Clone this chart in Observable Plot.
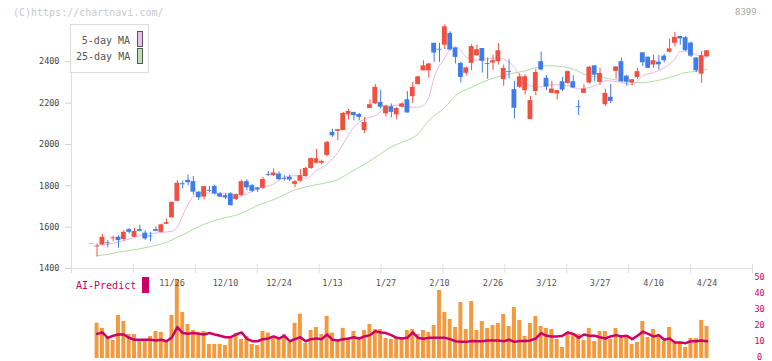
<!DOCTYPE html>
<html><head><meta charset="utf-8">
<script src="https://cdn.jsdelivr.net/npm/d3@7"></script>
<script src="https://cdn.jsdelivr.net/npm/@observablehq/plot@0.6"></script>
<style>
html,body{margin:0;padding:0;background:#fff;}
#root{position:relative;width:772px;height:361px;overflow:hidden;font-family:"DejaVu Sans Mono",monospace;}
.abs{position:absolute;white-space:nowrap;}
</style></head><body><div id="root"></div>
<script>
// ---- data ----
const openP = [1519,1504,1514,1524,1544,1551,1540,1588,1551,1588,
 1571,1557,1588,1575,1614,1645,1725,1810,1826,1820,
 1769,1745,1777,1796,1761,1752,1761,1733,1753,1820,
 1801,1790,1788,1854,1849,1857,1835,1841,1807,1822,
 1845,1884,1909,1909,1946,2058,2063,2067,2143,2154,
 2145,2067,2174,2196,2203,2148,2182,2143,2180,2216,
 2231,2289,2356,2356,2489,2460,2480,2537,2466,2392,
 2344,2392,2429,2464,2391,2394,2400,2313,2352,2265,
 2276,2260,2120,2256,2400,2320,2247,2244,2303,2295,
 2303,2182,2247,2297,2380,2300,2192,2228,2353,2400,
 2330,2297,2324,2443,2422,2384,2398,2427,2446,2489,
 2522,2516,2490,2418,2340,2424];
const closeP = [1521,1508,1551,1520,1548,1535,1575,1575,1579,1580,
 1543,1553,1580,1611,1622,1720,1812,1805,1815,1769,
 1742,1796,1773,1761,1745,1741,1704,1757,1820,1790,
 1773,1780,1830,1850,1862,1830,1831,1828,1820,1849,
 1884,1931,1931,1918,2010,2042,2071,2150,2159,2139,
 2131,2106,2192,2276,2180,2186,2155,2174,2196,2152,
 2276,2327,2380,2389,2442,2456,2569,2457,2421,2324,
 2370,2473,2458,2402,2387,2405,2453,2368,2348,2175,
 2327,2327,2212,2348,2360,2277,2268,2260,2263,2352,
 2273,2178,2268,2373,2335,2343,2247,2208,2375,2303,
 2301,2313,2352,2395,2368,2405,2385,2405,2462,2518,
 2510,2453,2427,2356,2429,2453];
const highP = [1521,1519,1564,1535,1556,1559,1583,1594,1594,1609,
 1583,1575,1602,1614,1640,1722,1825,1822,1852,1845,
 1771,1798,1796,1803,1767,1761,1767,1761,1825,1830,
 1806,1792,1840,1869,1882,1867,1849,1852,1825,1879,
 1888,1935,1975,1924,2015,2073,2073,2155,2169,2156,
 2150,2130,2215,2290,2262,2190,2196,2178,2201,2256,
 2300,2329,2405,2392,2489,2489,2578,2545,2468,2397,
 2375,2482,2480,2464,2418,2431,2488,2384,2410,2305,
 2342,2337,2231,2363,2446,2334,2305,2262,2324,2356,
 2332,2212,2289,2378,2380,2368,2267,2290,2375,2418,
 2335,2313,2368,2443,2422,2432,2430,2435,2509,2542,
 2522,2522,2495,2418,2450,2453];
const lowP = [1519,1455,1512,1500,1531,1498,1532,1567,1549,1577,
 1536,1530,1578,1573,1612,1643,1723,1785,1800,1755,
 1729,1733,1767,1755,1743,1733,1702,1729,1748,1775,
 1767,1767,1782,1845,1845,1825,1823,1820,1790,1817,
 1840,1879,1906,1900,1940,2034,2018,2067,2119,2114,
 2114,2053,2174,2193,2172,2134,2128,2119,2176,2152,
 2197,2289,2356,2321,2397,2397,2459,2452,2389,2297,
 2332,2356,2425,2345,2315,2357,2384,2281,2316,2123,
 2270,2238,2120,2236,2355,2260,2245,2215,2256,2290,
 2270,2140,2245,2292,2302,2286,2183,2197,2315,2300,
 2281,2284,2315,2376,2368,2368,2360,2395,2442,2472,
 2480,2450,2420,2347,2295,2420];

// 5-day and 25-day moving averages, read at candle indices
const ma5Idx = [1,4,7,9,12,15,16,17,18,19,20,22,25,27,29,31,34,36,38,40,42,44,46,47,49,51,53,55,57,59,61,62,63,64,66,67,68,69,70,72,74,76,78,79,80,81,82,84,86,89,91,94,96,99,101,103,105,108,109,110,112,113,115];
const ma5Val = [1511,1522,1543,1559,1572,1580,1600,1656,1710,1750,1769,1764,1764,1744,1761,1785,1809,1841,1849,1836,1873,1906,1962,2002,2083,2123,2139,2180,2190,2182,2180,2190,2228,2324,2420,2462,2473,2453,2421,2408,2415,2418,2397,2373,2330,2300,2284,2278,2289,2284,2268,2284,2308,2300,2289,2332,2348,2389,2413,2450,2444,2434,2421];
const ma25Idx = [1,3,5,7,9,11,13,14,16,18,19,23,28,31,35,37,40,43,46,48,51,54,56,58,61,63,66,68,71,74,78,81,85,86,90,92,96,99,102,105,108,111,113,115];
const ma25Val = [1463,1468,1479,1487,1495,1506,1519,1527,1551,1575,1590,1632,1667,1704,1744,1770,1795,1810,1830,1860,1905,1954,1989,2010,2051,2115,2179,2236,2276,2311,2340,2356,2380,2380,2364,2340,2321,2308,2298,2305,2324,2348,2353,2364];

// AI-Predict panel: bars and line, candles 1..115
const aiBars = [22,18.8,13.3,11.3,26.9,23.1,15,15,11.9,11.9,13.8,16.9,16.3,11.3,26.9,49.4,28.8,21.3,17.5,16.3,
 16.9,8.8,8.8,8.8,8.1,12.5,15.6,11.9,13.8,8.8,8.1,16.9,15.9,13.8,13.1,15,10,22,27.7,9.4,
 17.5,19.4,15,26.3,15.9,11.3,18.8,11.9,16.9,12.5,17.5,21.3,18.1,18.1,12.5,11.9,12.5,11.9,17.5,18.1,
 15,17.5,16.3,20.6,42.5,28.8,24.4,19.4,35,18.1,35.6,17.5,23.1,18.8,20.6,21.9,27.5,20,31.9,23.8,
 13.8,21.9,26.3,20,18.8,18.1,11.9,6.9,16.3,15,15,11.3,18.8,10.6,16.9,16.9,11.9,18.8,14.4,14.4,
 8.8,10,23.1,13.1,18.1,14.4,10.6,19.4,10,10,6.9,12.5,12.5,23.8,20];
const aiLine = [15.4,16.3,12.9,14.2,15,15,12.9,11.7,11.7,11.7,11.7,11.3,11.7,10.8,13.3,19.6,15.9,15.4,15.9,15.4,
 15,15.9,15,14.2,13.3,13.3,15,16.3,12.3,10.8,10.8,12.1,12.5,13.8,12.5,14.2,10.8,12.1,13.3,10.8,
 12.1,12.5,12.1,15,11.7,11.3,12.1,12.5,13.3,12.5,13.8,14.6,17.1,16.3,15.9,14.6,12.9,12.5,12.9,16.3,
 12.9,12.3,12.9,12.9,12.9,12.9,12.1,10.8,10.4,10.4,11,10.8,10.8,11.3,11.3,11.3,10.8,11.7,10.4,11,
 11,11.3,12.5,15.9,14.2,13.8,13.8,14.2,16.3,15.4,12.9,15,14.2,14.2,13.3,12.5,13.8,14.6,13.8,14.2,
 12.1,14.2,16.7,15.4,13.8,14.6,11.7,12.5,10,10,9.6,10.8,10.8,11.3,10.8];

const dateLabels = ["11/26","12/10","12/24","1/13","1/27","2/10","2/26","3/12","3/27","4/10","4/24"];
const dateIdx = [15,25,35,45,55,65,75,85,95,105,115];
const yTicks = [1400,1600,1800,2000,2200,2400];
const aiTicks = [0,10,20,30,40,50];

// ---- build ----
const UP = "#f0503f", DOWN = "#3f7ce8";
const MONO = "DejaVu Sans Mono, monospace";
const xDomain = [-3.78, 123.5];
const candles = openP.map((o, i) => ({i, o, c: closeP[i], h: highP[i], l: lowP[i]}));
const ma5 = ma5Idx.map((i, k) => ({i, v: ma5Val[k]}));
const ma25 = ma25Idx.map((i, k) => ({i, v: ma25Val[k]}));
const bars = aiBars.map((v, k) => ({i: k + 1, v}));
const line = aiLine.map((v, k) => ({i: k + 1, v}));
const gridX = d3.range(12).map(k => xDomain[0] + k * (xDomain[1] - xDomain[0]) / 11);
const labelOf = new Map(dateIdx.map((d, k) => [d, dateLabels[k]]));
const col = d => d.c >= d.o ? UP : DOWN;

const root = document.getElementById("root");

const main = Plot.plot({
  width: 772, height: 300,
  marginLeft: 71, marginRight: 20, marginTop: 24, marginBottom: 32,
  style: {background: "transparent", fontFamily: MONO, fontSize: "8.5px", overflow: "visible"},
  x: {domain: xDomain, label: null},
  y: {domain: [1400, 2580], label: null},
  color: {type: "identity"},
  marks: [
    Plot.ruleX([xDomain[0]], {stroke: "#dedede"}),
    Plot.ruleY([1400], {stroke: "#dedede"}),
    Plot.ruleX(gridX, {y1: 1400, y2: 1400, insetTop: -4, insetBottom: -5, stroke: "#dedede"}),
    Plot.axisY({ticks: yTicks, tickSize: 6, tickPadding: 6, tickFormat: d => String(d), label: null, stroke: "#d0d0d0", fill: "#444", fontSize: 8.5}),
    Plot.axisX({ticks: dateIdx, tickSize: 0, tickPadding: 11, tickFormat: d => labelOf.get(d), label: null, fill: "#555", fontSize: 8.5}),
    Plot.line(ma25, {x: "i", y: "v", stroke: "#b3dca3", strokeWidth: 1, curve: "monotone-x"}),
    Plot.line(ma5, {x: "i", y: "v", stroke: "#e9b6ea", strokeWidth: 1, curve: "monotone-x"}),
    Plot.ruleX(candles, {x: "i", y1: "l", y2: "h", stroke: col, strokeWidth: 1}),
    Plot.rect(candles, {x1: d => d.i - 0.45, x2: d => d.i + 0.45, y1: d => Math.min(d.o, d.c), y2: d => Math.max(d.o, d.c), fill: col})
  ]
});
main.style.position = "absolute";
main.style.left = "0px";
main.style.top = "0px";

const lower = Plot.plot({
  width: 772, height: 91,
  marginLeft: 71, marginRight: 20, marginTop: 8, marginBottom: 3,
  style: {background: "transparent", fontFamily: MONO, fontSize: "8.5px", overflow: "visible"},
  x: {domain: xDomain, axis: null, label: null},
  y: {domain: [0, 50], label: null},
  marks: [
    Plot.rectY(bars, {x1: d => d.i - 0.37, x2: d => d.i + 0.37, y: "v", fill: "#f29a40"}),
    Plot.line(line, {x: "i", y: "v", stroke: "#cc0066", strokeWidth: 2.5}),
    Plot.axisY({anchor: "right", ticks: aiTicks, tickSize: 0, tickPadding: 7, textAnchor: "middle", label: null, dy: -1, fill: "#cc0066", fontSize: 8.5})
  ]
});
lower.style.position = "absolute";
lower.style.left = "0px";
lower.style.top = "270px";

root.appendChild(lower);
root.appendChild(main);

function addText(txt, left, cy, size, color, extra) {
  const d = document.createElement("div");
  d.className = "abs";
  d.textContent = txt;
  d.style.left = left + "px";
  d.style.top = (cy - size / 2) + "px";
  d.style.fontSize = size + "px";
  d.style.lineHeight = size + "px";
  d.style.color = color;
  if (extra) Object.assign(d.style, extra);
  root.appendChild(d);
  return d;
}
function addBox(left, top, w, h, styles) {
  const d = document.createElement("div");
  d.className = "abs";
  Object.assign(d.style, {left: left + "px", top: top + "px", width: w + "px", height: h + "px", boxSizing: "border-box"}, styles);
  root.appendChild(d);
  return d;
}

addText("(C)https://chartnavi.com/", 13, 12.5, 10, "#c8c8c8");
addText("8399", 735, 12, 9, "#a8a8a8");

// legend
addBox(70, 24, 79, 49, {background: "#fff", border: "1px solid #dcdcdc"});
addText("5-day MA", 76, 41, 10, "#555", {width: "54px", textAlign: "right"});
addText("25-day MA", 76, 57, 10, "#555", {width: "54px", textAlign: "right"});
addBox(137, 31, 6, 16, {background: "#eebcee", border: "1px solid #555"});
addBox(137, 48, 6, 16, {background: "#bfe0b2", border: "1px solid #555"});

// AI-Predict label
addText("AI-Predict", 76, 286, 10, "#cc0066");
addBox(142, 277, 7, 16, {background: "#cc0066"});
</script>
</body></html>
